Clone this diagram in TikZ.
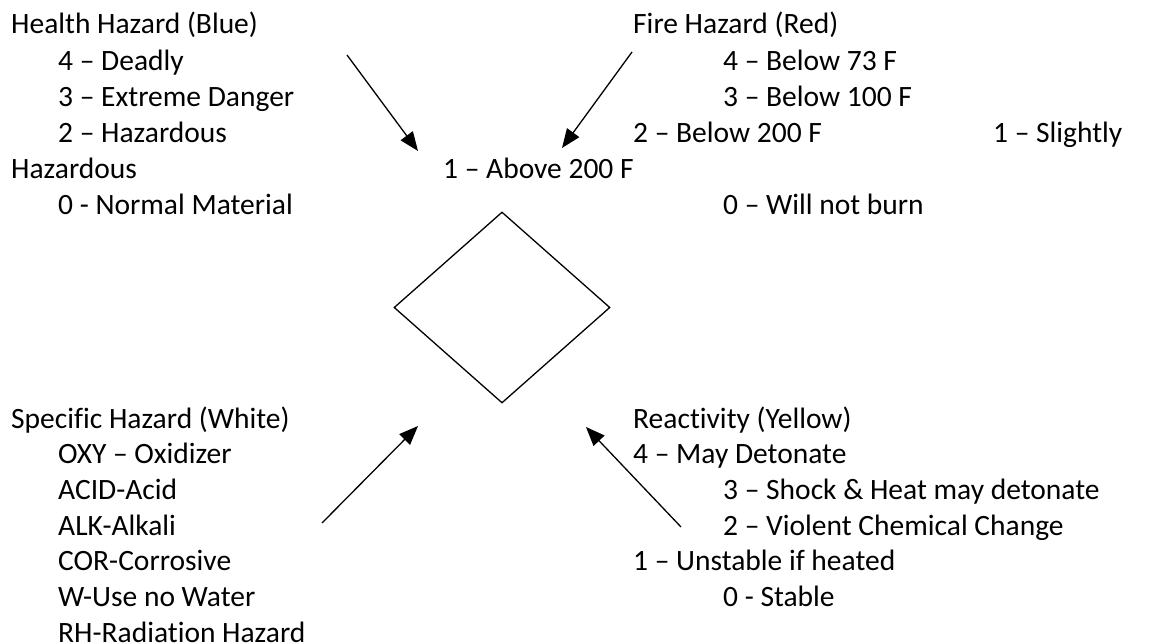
\documentclass[tikz,border=0pt]{standalone}
\usepackage{fontspec}
\setmainfont{Carlito}[Ligatures=NoCommon]
\usetikzlibrary{arrows.meta,shapes.geometric}
\begin{document}
\begin{tikzpicture}[x=1pt,y=-1pt,
  lbl/.style={anchor=base west, inner sep=0pt, font=\fontsize{29.5}{36}\selectfont},
  ptr/.style={line width=1.3pt, -{Triangle[length=19pt,width=15pt]}},
  nfpa/.style={draw, line width=1.3pt, diamond, inner sep=0pt,
    minimum width=216pt, minimum height=191pt}]
\useasboundingbox (0,0) rectangle (1157,644);

% Health hazard (upper left)
\node[lbl] (hh)  at (11,33.5)  {Health Hazard (Blue)};
\node[lbl] (hh4) at (58,70.2)  {4 – Deadly};
\node[lbl] (hh3) at (58,106.4) {3 – Extreme Danger};
\node[lbl] (hh2) at (58,142.6) {2 – Hazardous};
\node[lbl] (hh1) at (11,178.8) {Hazardous};
\node[lbl] (hh0) at (58,215)   {0 - Normal Material};

% Fire hazard (upper right)
\node[lbl] (fh)  at (633,33.5)  {Fire Hazard (Red)};
\node[lbl] (fh4) at (723,70.2)  {4 – Below 73 F};
\node[lbl] (fh3) at (723,106.4) {3 – Below 100 F};
\node[lbl] (fh2) at (633,142.6) {2 – Below 200 F};
\node[lbl] (hs1) at (993,142.6) {1 – Slightly};
\node[lbl] (fh1) at (443,178.8) {1 – Above 200 F};
\node[lbl] (fh0) at (723,215)   {0 – Will not burn};

% Specific hazard (lower left)
\node[lbl] (sh)   at (11,428)    {Specific Hazard (White)};
\node[lbl] (shox) at (58,463.7)  {OXY – Oxidizer};
\node[lbl] (shac) at (58,499.4)  {ACID-Acid};
\node[lbl] (shal) at (58,535.1)  {ALK-Alkali};
\node[lbl] (shco) at (58,570.8)  {COR-Corrosive};
\node[lbl] (shw)  at (58,606.5)  {W-Use no Water};
\node[lbl] (shrh) at (58,642.2)  {RH-Radiation Hazard};

% Reactivity (lower right)
\node[lbl] (re)  at (633,428)   {Reactivity (Yellow)};
\node[lbl] (re4) at (633,463.7) {4 – May Detonate};
\node[lbl] (re3) at (723,499.4) {3 – Shock \& Heat may detonate};
\node[lbl] (re2) at (723,535.1) {2 – Violent Chemical Change};
\node[lbl] (re1) at (633,570.8) {1 – Unstable if heated};
\node[lbl] (re0) at (723,606.5) {0 - Stable};

% The diamond
\node[nfpa] (dia) at (502,307.5) {};

% Pointers toward the diamond
\coordinate (a1s) at (347,55);
\coordinate (a1e) at (418,151);
\coordinate (a2s) at (632,52);
\coordinate (a2e) at (562,148);
\coordinate (a3s) at (322,523);
\coordinate (a3e) at (418,426);
\coordinate (a4s) at (681,527);
\coordinate (a4e) at (586,427);
\draw[ptr] (a1s) -- (a1e);
\draw[ptr] (a2s) -- (a2e);
\draw[ptr] (a3s) -- (a3e);
\draw[ptr] (a4s) -- (a4e);
\end{tikzpicture}
\end{document}
